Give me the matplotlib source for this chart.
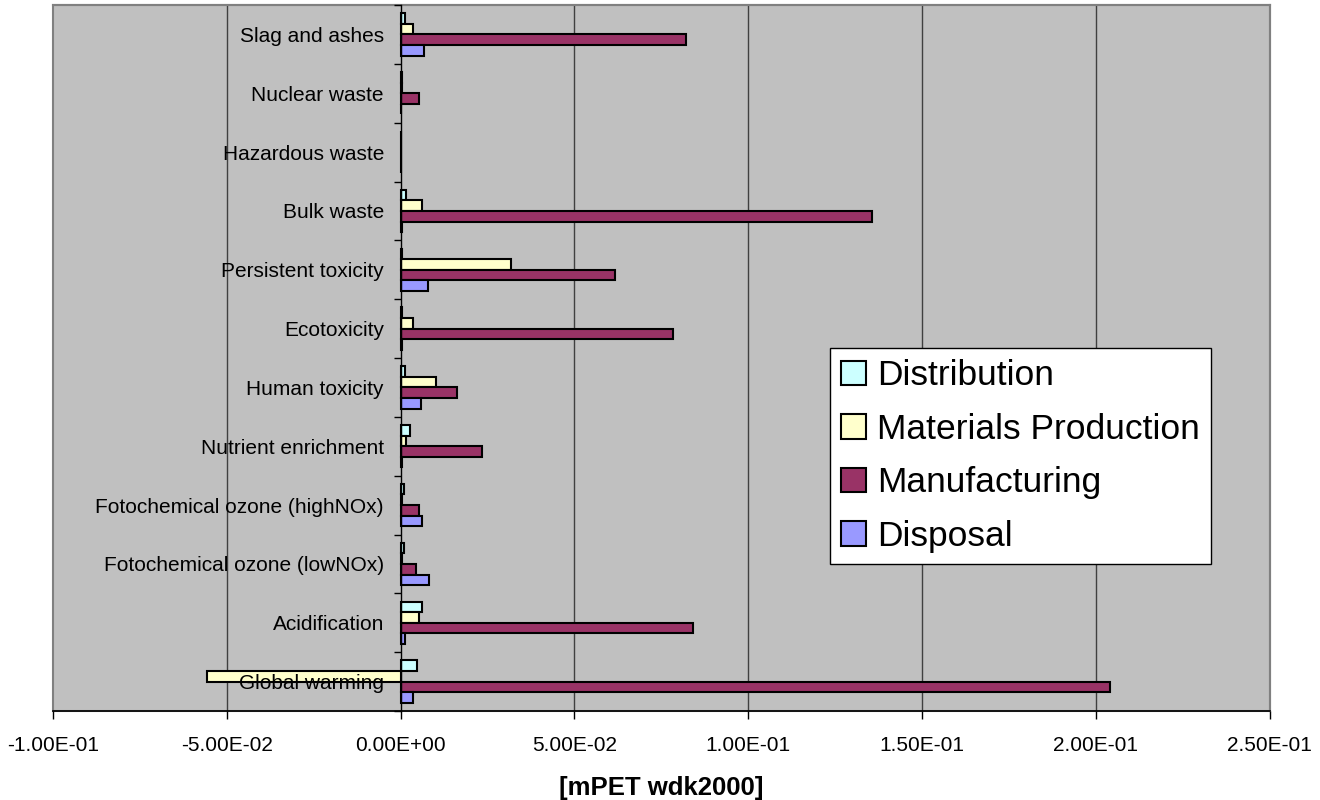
import matplotlib
matplotlib.use("Agg")
import matplotlib.pyplot as plt
from matplotlib.ticker import FuncFormatter, FixedLocator
import numpy as np

plt.rcParams["font.family"] = ["Liberation Sans", "DejaVu Sans"]

categories = [
    "Global warming",
    "Acidification",
    "Fotochemical ozone (lowNOx)",
    "Fotochemical ozone (highNOx)",
    "Nutrient enrichment",
    "Human toxicity",
    "Ecotoxicity",
    "Persistent toxicity",
    "Bulk waste",
    "Hazardous waste",
    "Nuclear waste",
    "Slag and ashes",
]

series_names = ["Distribution", "Materials Production", "Manufacturing", "Disposal"]
distribution = [0.0047, 0.0062, 0.0010, 0.0010, 0.0026, 0.0013, 0.0005, 0.0003, 0.0015, 0.0, 0.0003, 0.0012]
materials = [-0.0558, 0.0053, 0.0003, 0.0003, 0.0016, 0.0101, 0.0035, 0.0318, 0.0062, 0.0, 0.0003, 0.0037]
manufacturing = [0.2040, 0.0841, 0.0044, 0.0053, 0.0235, 0.0163, 0.0783, 0.0616, 0.1356, 0.0, 0.0054, 0.0821]
disposal = [0.0037, 0.0012, 0.0081, 0.0061, 0.0005, 0.0060, 0.0005, 0.0079, 0.0005, 0.0, 0.0, 0.0067]

colors = ["#CCFFFF", "#FFFFCC", "#993366", "#9999FF"]
x_ticks = [-0.10, -0.05, 0.0, 0.05, 0.10, 0.15, 0.20, 0.25]

fig = plt.figure(figsize=(13.2, 8), dpi=100)
fig.patch.set_facecolor("white")
W, H = 1320, 800
ax = fig.add_axes([53 / W, (H - 711) / H, (1269.5 - 53) / W, (711 - 5) / H])
ax.set_facecolor("#C0C0C0")
ax.patch.set_edgecolor("#808080")
ax.patch.set_linewidth(1.5)

y = np.arange(len(categories))
bar_h = 0.18
offsets = [1.5 * bar_h, 0.5 * bar_h, -0.5 * bar_h, -1.5 * bar_h]
data = [distribution, materials, manufacturing, disposal]
for vals, off, col, name in zip(data, offsets, colors, series_names):
    ax.barh(y + off, vals, height=bar_h, color=col, edgecolor="black",
            linewidth=1.5, label=name, zorder=2)

ax.set_xlim(-0.1, 0.25)
ax.set_ylim(-0.5, len(categories) - 0.5)

# vertical gridlines behind the bars
for xv in x_ticks[1:-1]:
    if xv != 0.0:
        ax.axvline(xv, color="#404040", linewidth=1.0, zorder=0.8)

ax.xaxis.set_major_locator(FixedLocator(x_ticks))
ax.xaxis.set_major_formatter(FuncFormatter(lambda v, p: format(v + 0.0 if abs(v) > 1e-12 else 0.0, ".2E")))
ax.tick_params(axis="x", which="major", length=6, width=1, direction="out",
               labelsize=15, pad=12, colors="black")

# category axis sits at zero
ax.spines["left"].set_position(("data", 0))
ax.spines["left"].set_color("black")
ax.spines["left"].set_linewidth(1.0)
ax.spines["left"].set_zorder(3)
ax.spines["bottom"].set_color("black")
ax.spines["bottom"].set_linewidth(1.2)
for s in ("top", "right"):
    ax.spines[s].set_color("#808080")
    ax.spines[s].set_linewidth(1.5)

ax.set_yticks(y)
ax.set_yticklabels(categories)
ax.yaxis.set_minor_locator(FixedLocator(np.arange(-0.5, len(categories), 1.0)))
ax.tick_params(axis="y", which="major", length=0, labelsize=15, pad=12)
ax.tick_params(axis="y", which="minor", length=5, width=1, direction="out", colors="black")
ax.yaxis.set_zorder(5)

ax.set_xlabel("[mPET wdk2000]", fontsize=18.5, fontweight="bold", labelpad=15)

leg = ax.legend(loc="upper left", bbox_to_anchor=(830 / W, 1 - 348 / H),
                bbox_transform=fig.transFigure, borderaxespad=0,
                fontsize=25.5, frameon=True, fancybox=False, framealpha=1,
                edgecolor="black", handlelength=0.7, handleheight=0.7,
                handletextpad=0.3, labelspacing=0.58, borderpad=0.32)
leg.get_frame().set_linewidth(1.0)
leg.set_zorder(10)

fig.savefig("out.png", dpi=100, facecolor="white")
